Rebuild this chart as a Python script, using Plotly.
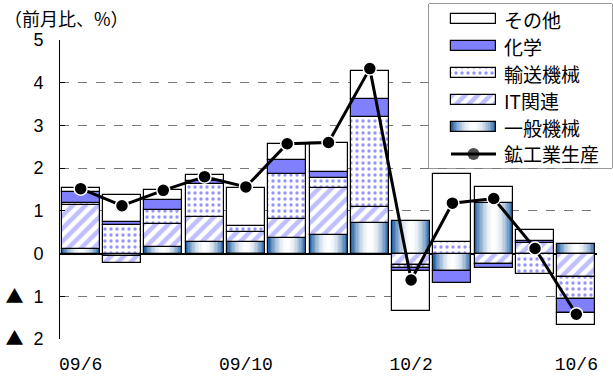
import numpy as np
import plotly.graph_objects as go

# Monthly contributions to industrial production (month-on-month, %)
months = ["09/6", "09/7", "09/8", "09/9", "09/10", "09/11", "09/12",
          "10/1", "10/2", "10/3", "10/4", "10/5", "10/6"]
tick_months = ["09/6", "09/10", "10/2", "10/6"]

general_machinery = [0.10, -0.06, 0.16, 0.26, 0.26, 0.37, 0.43, 0.72, 0.77, -0.40, 1.19, 0.00, 0.22]
it_related = [1.03, -0.15, 0.53, 0.60, 0.24, 0.43, 1.10, 0.38, -0.26, 0.00, -0.24, 0.24, -0.55]
transport = [0.05, 0.66, 0.32, 0.76, 0.14, 1.06, 0.23, 2.10, -0.08, 0.28, 0.00, -0.47, -0.52]
chemicals = [0.26, 0.08, 0.25, 0.08, -0.03, 0.33, 0.16, 0.43, -0.06, -0.29, -0.09, 0.05, -0.33]
others = [0.09, 0.64, 0.23, 0.14, 0.90, 0.37, 0.68, 0.65, -0.95, 1.59, 0.37, 0.27, -0.27]
production = [1.52, 1.12, 1.48, 1.80, 1.56, 2.57, 2.60, 4.33, -0.62, 1.18, 1.29, 0.12, -1.42]

y_ticks = [5, 4, 3, 2, 1, 0, -1, -2]
TRI = "<span style='font-family:Noto Sans CJK JP'>▲</span>"
y_ticktext = ["5", "4", "3", "2", "1", "0", f"{TRI}\u00a0\u00a01", f"{TRI}\u00a0\u00a02"]

W, H = 613, 385
BAR_W = 0.92
BLUE = "#8080ff"
DOT = "#2a2aff"
EDGE = (36, 100, 166)
JP = "Noto Sans CJK JP"

x = np.arange(len(months))


def mix(t):
    r, g, b = (int(round(255 + (c - 255) * t)) for c in EDGE)
    return f"rgb({r},{g},{b})"


def gradient_levels(n=14):
    # outer-to-inner nested widths with colours fading to white at the centre
    return [(1 - k / n, mix((1 - k / n) ** 2.0)) for k in range(n)]


outline = dict(color="black", width=1.2)
styles = {
    "IT関連": dict(color="white", line=outline,
                 pattern=dict(shape="/", fgcolor=BLUE, bgcolor="white", size=9, solidity=0.5)),
    "輸送機械": dict(color="white", line=outline,
                 pattern=dict(shape=".", fgcolor=DOT, bgcolor="white", size=6, solidity=0.25)),
    "化学": dict(color=BLUE, line=outline),
    "その他": dict(color="white", line=outline),
}

fig = go.Figure()

# stacked positions: positives grow upward from zero, negatives downward
pos = np.zeros(len(x))
neg = np.zeros(len(x))
series = [("一般機械", general_machinery), ("IT関連", it_related), ("輸送機械", transport),
          ("化学", chemicals), ("その他", others)]
for name, vals in series:
    v = np.array(vals, dtype=float)
    base = np.where(v >= 0, pos, neg)
    if name == "一般機械":
        for frac, col in gradient_levels():
            fig.add_trace(go.Bar(x=x, y=v, base=base, width=BAR_W * frac,
                                 marker=dict(color=col, line=dict(width=0)),
                                 hoverinfo="skip", xaxis="x", yaxis="y"))
        fig.add_trace(go.Bar(x=x, y=v, base=base, width=BAR_W, name=name,
                             marker=dict(color="rgba(0,0,0,0)", line=outline),
                             xaxis="x", yaxis="y"))
    else:
        fig.add_trace(go.Bar(x=x, y=v, base=base, width=BAR_W, name=name,
                             marker=styles[name], xaxis="x", yaxis="y"))
    pos += np.maximum(v, 0)
    neg += np.minimum(v, 0)

fig.add_trace(go.Scatter(x=x, y=production, name="鉱工業生産", mode="lines+markers",
                         line=dict(color="black", width=3),
                         marker=dict(color="black", size=13, line=dict(color="white", width=1.5)),
                         xaxis="x", yaxis="y"))

# legend panel drawn on its own small axes so swatches keep their fills
legend_rows = ["その他", "化学", "輸送機械", "IT関連", "一般機械", "鉱工業生産"]
SW0, SW_LEN, SW_H = 22, 45, 0.38
for r, name in enumerate(legend_rows):
    if name in styles:
        fig.add_trace(go.Bar(y=[r], x=[SW_LEN], base=[SW0], orientation="h", width=SW_H,
                             marker=styles[name], xaxis="x2", yaxis="y2", hoverinfo="skip"))
    elif name == "一般機械":
        mid = SW0 + SW_LEN / 2
        for frac, col in gradient_levels():
            L = SW_LEN * frac
            fig.add_trace(go.Bar(y=[r], x=[L], base=[mid - L / 2], orientation="h", width=SW_H,
                                 marker=dict(color=col, line=dict(width=0)),
                                 xaxis="x2", yaxis="y2", hoverinfo="skip"))
        fig.add_trace(go.Bar(y=[r], x=[SW_LEN], base=[SW0], orientation="h", width=SW_H,
                             marker=dict(color="rgba(0,0,0,0)", line=outline),
                             xaxis="x2", yaxis="y2", hoverinfo="skip"))
    else:
        fig.add_trace(go.Scatter(x=[SW0, SW0 + SW_LEN / 2, SW0 + SW_LEN], y=[r, r, r],
                                 mode="lines+markers", line=dict(color="black", width=3),
                                 marker=dict(color="black", size=[0, 12, 0], line=dict(width=0)),
                                 xaxis="x2", yaxis="y2", hoverinfo="skip"))
    fig.add_annotation(x=SW0 + SW_LEN + 6, y=r, xref="x2", yref="y2", text=name,
                       showarrow=False, xanchor="left", yanchor="middle",
                       font=dict(family=JP, size=19, color="black"))

fig.add_shape(type="rect", xref="x2 domain", yref="y2 domain", x0=0, x1=1, y0=0, y1=1,
              fillcolor="white", line=dict(color="#333333", width=1), layer="below")

fig.add_annotation(x=2 / W, y=1 - 18 / H, xref="paper", yref="paper", text="（前月比、%）",
                   showarrow=False, xanchor="left", yanchor="middle",
                   font=dict(family=JP, size=18, color="black"))

fig.update_layout(
    width=W, height=H,
    margin=dict(l=0, r=0, t=0, b=0),
    paper_bgcolor="white", plot_bgcolor="white",
    barmode="overlay", bargap=0, showlegend=False,
    xaxis=dict(domain=[60 / W, 597 / W], range=[-0.5, len(months) - 0.5],
               tickvals=[months.index(m) for m in tick_months], ticktext=tick_months,
               showgrid=False, zeroline=False, showline=False, ticks="",
               tickfont=dict(family="Liberation Mono", size=18, color="black"),
               ticklabelstandoff=12, automargin=False, fixedrange=True),
    yaxis=dict(domain=[46 / H, 345 / H], range=[-2, 5],
               tickvals=y_ticks, ticktext=y_ticktext,
               showgrid=True, gridcolor="#777777", griddash="dash", gridwidth=1,
               zeroline=True, zerolinecolor="black", zerolinewidth=1.5,
               showline=True, linecolor="black", linewidth=1,
               ticks="inside", ticklen=5, tickcolor="black",
               tickfont=dict(family="Liberation Sans", size=18, color="black"),
               ticklabelstandoff=12, automargin=False, fixedrange=True),
    xaxis2=dict(domain=[429 / W, 612 / W], range=[0, 183], visible=False, fixedrange=True),
    yaxis2=dict(domain=[(H - 168) / H, (H - 4) / H], range=[5.52, -0.56],
                visible=False, fixedrange=True),
)

fig.write_html("out.html")
